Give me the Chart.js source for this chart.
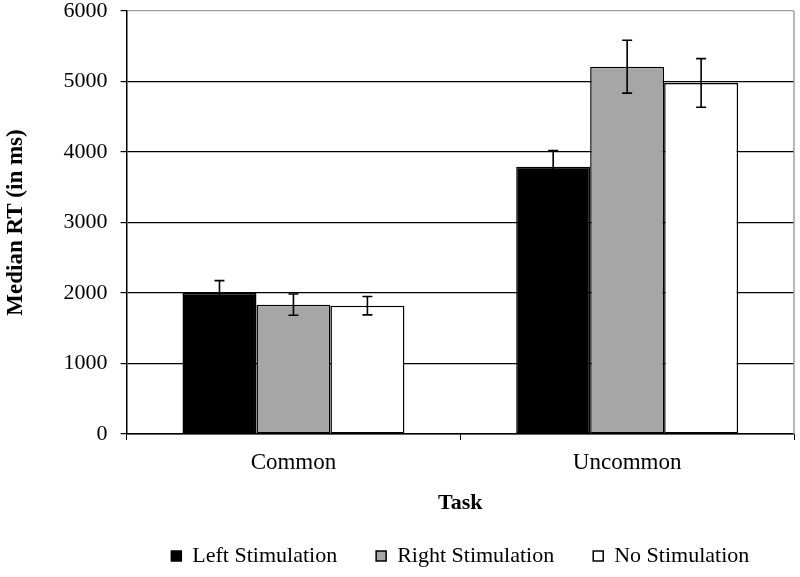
<!DOCTYPE html>
<html>
<head>
<meta charset="utf-8">
<script src="https://cdn.jsdelivr.net/npm/chart.js@4"></script>
<style>
    html, body { margin: 0; padding: 0; background: #fff; }
    #wrap { width: 800px; height: 577px; }
</style>
</head>
<body>
<div id="wrap"><canvas id="rtChart" width="800" height="577"></canvas></div>
<script>
// Chart data
const categories = ['Common', 'Uncommon'];
const seriesNames = ['Left Stimulation', 'Right Stimulation', 'No Stimulation'];
const leftStim = [2000, 3790];
const rightStim = [1835, 5210];
const noStim = [1820, 4980];
const leftErr = [175, 230];
const rightErr = [150, 375];
const noErr = [130, 345];
const yTicks = [0, 1000, 2000, 3000, 4000, 5000, 6000];

const values = [leftStim, rightStim, noStim];
const errors = [leftErr, rightErr, noErr];
const fills = ['#000000', '#a6a6a6', '#ffffff'];

const fontFamily = '"Liberation Serif", "Times New Roman", serif';

// Error bars and the grey right frame line
const errorBarPlugin = {
    id: 'errorBars',
    afterDatasetsDraw(chart) {
        const ctx = chart.ctx;
        const yScale = chart.scales.y;
        const area = chart.chartArea;

        ctx.save();
        ctx.strokeStyle = '#a0a0a0';
        ctx.lineWidth = 1.5;
        ctx.beginPath();
        ctx.moveTo(area.right, area.top);
        ctx.lineTo(area.right, area.bottom);
        ctx.stroke();

        ctx.strokeStyle = '#000';
        ctx.lineWidth = 1.6;
        chart.data.datasets.forEach((ds, i) => {
            const meta = chart.getDatasetMeta(i);
            meta.data.forEach((bar, j) => {
                const v = values[i][j];
                const e = errors[i][j];
                const yTop = yScale.getPixelForValue(v + e);
                const yBot = yScale.getPixelForValue(v - e);
                const half = 5;
                ctx.beginPath();
                ctx.moveTo(bar.x, yTop);
                ctx.lineTo(bar.x, yBot);
                ctx.moveTo(bar.x - half, yTop);
                ctx.lineTo(bar.x + half, yTop);
                ctx.moveTo(bar.x - half, yBot);
                ctx.lineTo(bar.x + half, yBot);
                ctx.stroke();
            });
        });
        ctx.restore();
    }
};

const ctx = document.getElementById('rtChart').getContext('2d');
new Chart(ctx, {
    type: 'bar',
    data: {
        labels: categories,
        datasets: seriesNames.map((name, i) => ({
            label: name,
            data: values[i],
            backgroundColor: fills[i],
            borderColor: '#000',
            borderWidth: 1.5,
            borderSkipped: false,
            categoryPercentage: 0.665,
            barPercentage: 1.0
        }))
    },
    options: {
        responsive: false,
        animation: false,
        layout: {
            padding: { top: 11, right: 6, left: 0, bottom: 0 }
        },
        font: { family: fontFamily, size: 22 },
        color: '#000',
        scales: {
            x: {
                offset: true,
                grid: {
                    offset: true,
                    drawOnChartArea: false,
                    tickLength: 6,
                    tickColor: '#000'
                },
                border: { color: '#000', width: 1.5 },
                ticks: {
                    color: '#000',
                    padding: 9,
                    font: { family: fontFamily, size: 23 }
                },
                title: {
                    display: true,
                    text: 'Task',
                    color: '#000',
                    font: { family: fontFamily, size: 22, weight: 'bold' },
                    padding: { top: 5, bottom: -11 }
                }
            },
            y: {
                min: 0,
                max: 6000,
                afterBuildTicks: (scale) => {
                    scale.ticks = yTicks.map(v => ({ value: v }));
                },
                // let the plot reach the top edge like the original
                afterFit: (scale) => {
                    scale.paddingTop = 0;
                    scale.paddingBottom = 0;
                },
                grid: {
                    color: (c) => (c.tick && c.tick.value === 6000) ? '#a0a0a0' : '#000',
                    tickColor: '#000',
                    lineWidth: 1.2,
                    tickLength: 6
                },
                border: { color: '#000', width: 1.5 },
                ticks: {
                    color: '#000',
                    padding: 13,
                    font: { family: fontFamily, size: 22 },
                    callback: (v) => String(v)
                },
                title: {
                    display: true,
                    text: 'Median RT (in ms)',
                    color: '#000',
                    font: { family: fontFamily, size: 23, weight: 'bold' },
                    padding: { top: 2, bottom: 21 }
                }
            }
        },
        plugins: {
            legend: {
                position: 'bottom',
                fullSize: false,
                labels: {
                    color: '#000',
                    boxWidth: 10,
                    boxHeight: 10,
                    padding: 39,
                    font: { family: fontFamily, size: 22 }
                }
            },
            tooltip: { enabled: false }
        }
    },
    plugins: [errorBarPlugin]
});
</script>
</body>
</html>
